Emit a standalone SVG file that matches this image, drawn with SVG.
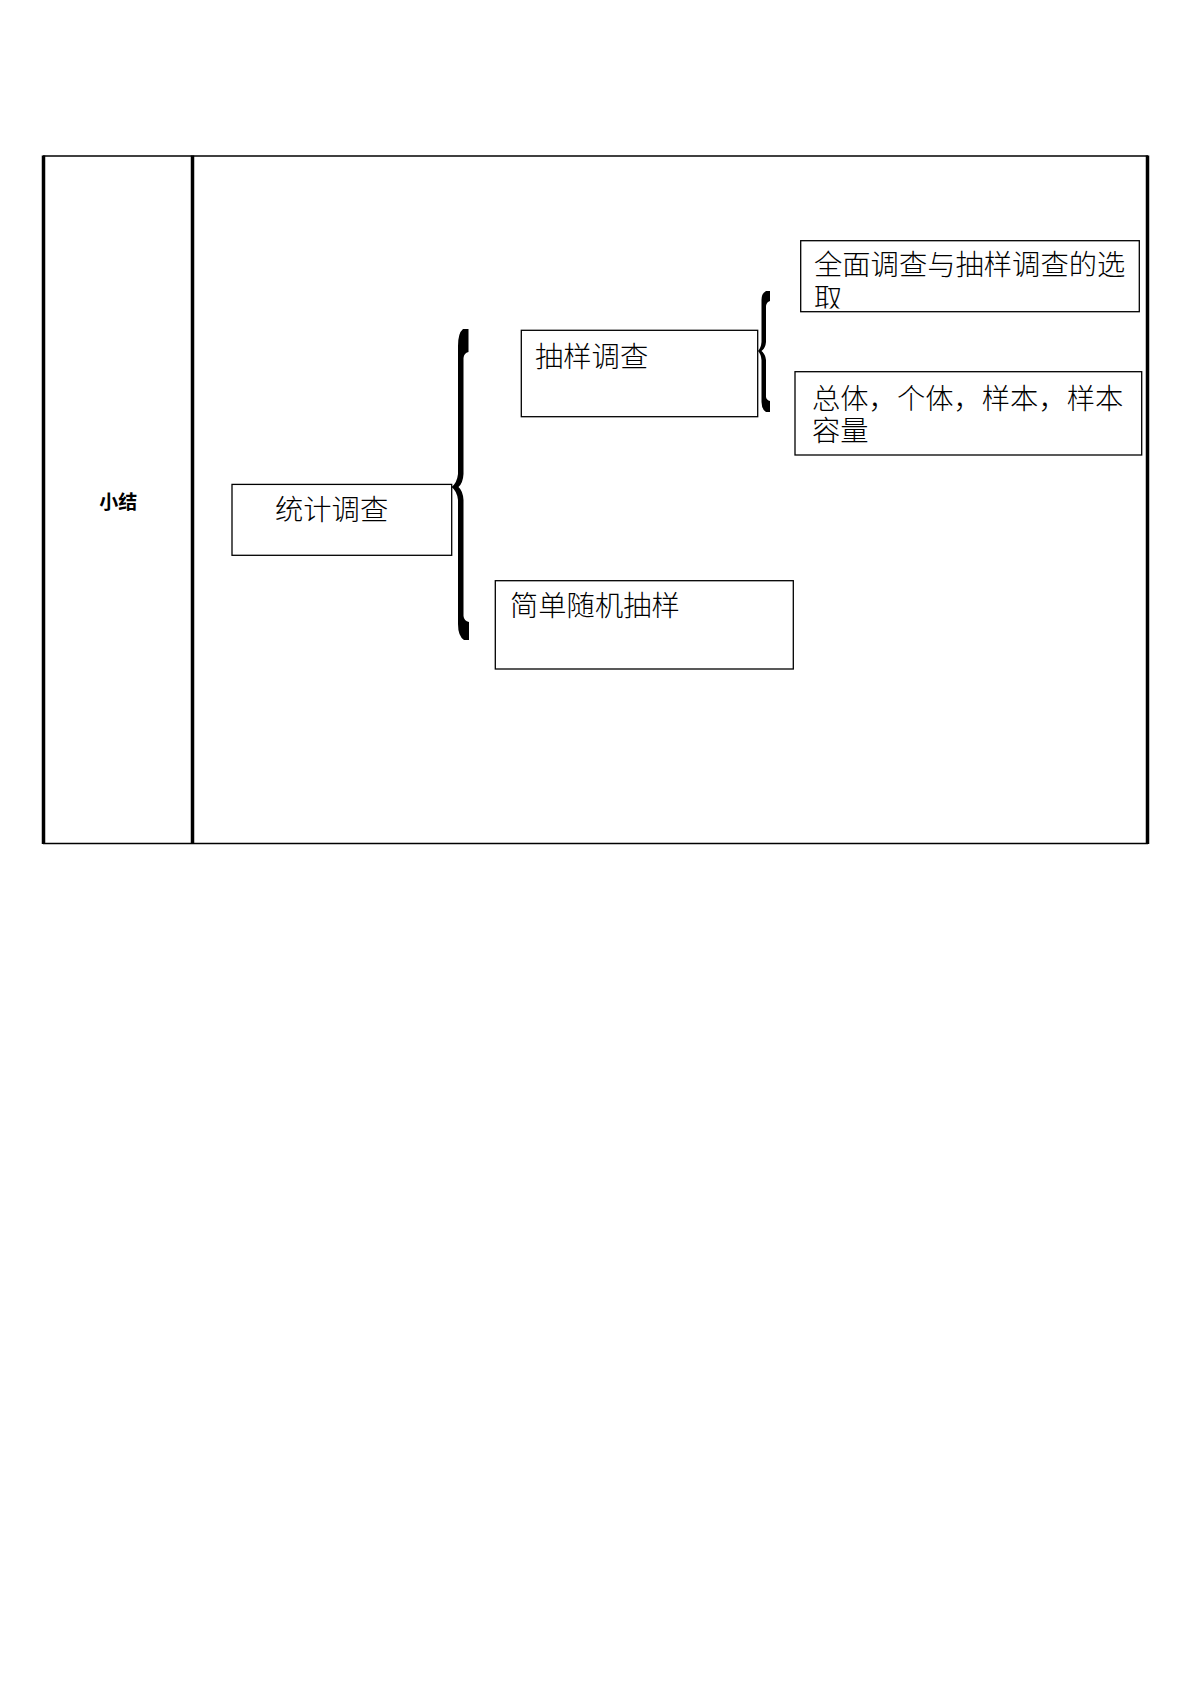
<svg xmlns="http://www.w3.org/2000/svg" width="1191" height="1684" viewBox="0 0 1191 1684">
  <style>
    .frame-thin { stroke: #000; stroke-width: 1.5; fill: none; }
    .frame-thick { stroke: #000; stroke-width: 3.5; fill: none; }
    .box { fill: #fff; stroke: #000; stroke-width: 1.3; }
    .txt { font-family: "Noto Sans CJK SC", "Liberation Sans", sans-serif; font-size: 28.3px; font-weight: 300; fill: #000; }
    .label { font-family: "Noto Sans CJK SC", "Liberation Sans", sans-serif; font-size: 19px; font-weight: bold; fill: #000; }
    .brace { fill: #000; stroke: none; }
  </style>
  <defs>
    <clipPath id="clip-choice">
      <rect x="801.5" y="241.5" width="337" height="67"/>
    </clipPath>
  </defs>
  <rect x="0" y="0" width="1191" height="1684" fill="#fff"/>

  <g id="table">
    <line class="frame-thin" x1="43" y1="156" x2="1148" y2="156"/>
    <line class="frame-thin" x1="43" y1="843.5" x2="1148" y2="843.5"/>
    <line class="frame-thick" x1="43.5" y1="155.5" x2="43.5" y2="844"/>
    <line class="frame-thick" x1="192.5" y1="155.5" x2="192.5" y2="844"/>
    <line class="frame-thick" x1="1147.5" y1="155.5" x2="1147.5" y2="844"/>
  </g>

  <g id="label-summary">
    <text class="label" x="118.3" y="509" text-anchor="middle">小结</text>
  </g>

  <g id="connectors">
    <path id="brace-main" class="brace" d="M 468.5 329 L 468.5 352 Q 464 353 463.5 358 L 463.5 474 Q 463 483 458.5 487 Q 463 491 463.5 500 L 463.5 616 Q 464 621 469 622 L 469 640 L 464 640 Q 458 636 458 624 L 458 500 Q 457 491 451.5 487 Q 457 483 458 474 L 458 346 Q 458 333 463 329 Z"/>
    <path id="brace-sampling" class="brace" d="M 770 291 L 770 301 Q 766.5 302 766 306 L 766 342 Q 765.5 348 761.5 351 Q 765.5 354 766 360 L 766 397 Q 766.5 400 770 401 L 770 412 L 766 412 Q 761.5 409 761.5 402 L 761.5 360 Q 761 354 758 351 Q 761 348 761.5 342 L 761.5 300 Q 761.5 293 766 291 Z"/>
  </g>

  <g id="node-statistics">
    <rect class="box" x="232" y="484.4" width="219.7" height="70.9"/>
    <text class="txt" x="275" y="520">统计调查</text>
  </g>

  <g id="node-sampling">
    <rect class="box" x="521.3" y="330.3" width="236.4" height="86.4"/>
    <text class="txt" x="535" y="367">抽样调查</text>
  </g>

  <g id="node-simple-random">
    <rect class="box" x="495.3" y="580.7" width="298" height="88.3"/>
    <text class="txt" x="510" y="616">简单随机抽样</text>
  </g>

  <g id="node-choice">
    <rect class="box" x="800.7" y="240.7" width="338.6" height="71"/>
    <g clip-path="url(#clip-choice)">
      <text class="txt" x="814" y="275">全面调查与抽样调查的选</text>
      <text class="txt" x="814" y="309">取</text>
    </g>
  </g>

  <g id="node-concepts">
    <rect class="box" x="795" y="371.7" width="346.7" height="83.3"/>
    <text class="txt" x="812" y="409">总体，个体，样本，样本</text>
    <text class="txt" x="812" y="441">容量</text>
  </g>
</svg>
